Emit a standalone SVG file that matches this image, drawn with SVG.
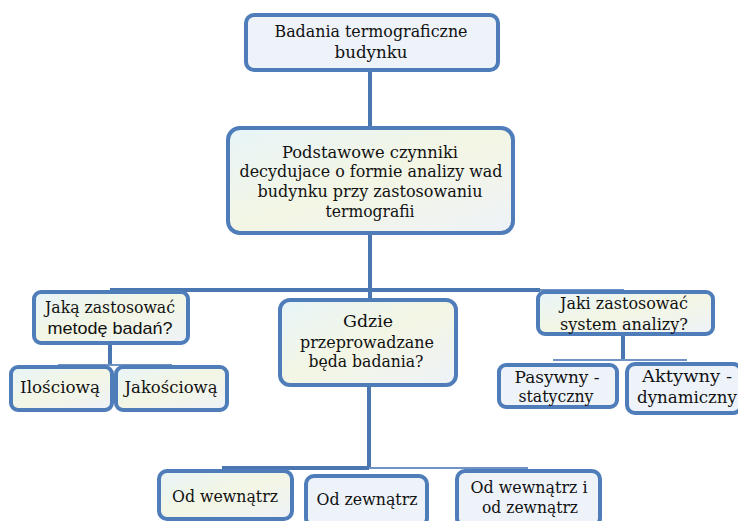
<svg xmlns="http://www.w3.org/2000/svg" width="738" height="521" viewBox="0 0 738 521">
<style>
.box{fill:#eef3fa;stroke:#4f7dba;stroke-width:4}
.tex{fill:url(#tex)}
.c{stroke:#4a76b2;stroke-width:4;fill:none}
.ct{stroke:#6f93c4;stroke-width:2;fill:none}
.t{font-family:'DejaVu Serif','Liberation Serif',serif;font-size:17px;fill:#111;text-anchor:middle}
.s{font-family:'Liberation Sans',Arial,sans-serif;font-size:17px}
</style>
<defs>
<linearGradient id="tex" x1="0" y1="0" x2="1" y2="1">
<stop offset="0" stop-color="#e8f4f8"/>
<stop offset="0.5" stop-color="#f3f6e4"/>
<stop offset="1" stop-color="#eef2f8"/>
</linearGradient>
</defs>
<rect width="738" height="521" fill="#ffffff"/>
<g id="connectors">
<line class="c" x1="370" y1="70" x2="370" y2="128"/>
<line class="c" x1="370" y1="233" x2="370" y2="300"/>
<line class="c" x1="110" y1="290" x2="540" y2="290"/>
<line class="ct" x1="540" y1="290" x2="624" y2="290"/>
<line class="c" x1="110" y1="343" x2="110" y2="366"/>
<line class="ct" x1="58" y1="365" x2="172" y2="365"/>
<line class="c" x1="623" y1="334" x2="623" y2="360"/>
<line class="ct" x1="553" y1="360" x2="687" y2="360"/>
<line class="c" x1="369" y1="385" x2="369" y2="468"/>
<line class="c" x1="222" y1="468" x2="369" y2="468"/>
<line class="ct" x1="369" y1="468" x2="528" y2="468"/>
</g>
<g class="t">
<g id="n1"><rect class="box" x="246" y="15" width="252" height="55" rx="8"/>
<text x="371" y="37" textLength="193" lengthAdjust="spacingAndGlyphs">Badania termograficzne</text><text x="371" y="58" textLength="73" lengthAdjust="spacingAndGlyphs">budynku</text></g>
<g id="n2"><rect class="box tex" x="228" y="128" width="285" height="105" rx="12"/>
<text x="370" y="158" textLength="176" lengthAdjust="spacingAndGlyphs">Podstawowe czynniki</text><text x="371" y="177" textLength="263" lengthAdjust="spacingAndGlyphs">decydujace o formie analizy wad</text><text x="370" y="197" textLength="225" lengthAdjust="spacingAndGlyphs">budynku przy zastosowaniu</text><text x="370" y="217" textLength="89" lengthAdjust="spacingAndGlyphs">termografii</text></g>
<g id="n3"><rect class="box tex" x="34" y="292" width="154" height="51" rx="7"/>
<text x="110" y="313" textLength="130" lengthAdjust="spacingAndGlyphs">Jaką zastosować</text><text class="s" x="110" y="334" textLength="125" lengthAdjust="spacingAndGlyphs">metodę badań?</text></g>
<g id="n4"><rect class="box tex" x="280" y="300" width="176" height="85" rx="10"/>
<text x="368" y="327" textLength="50" lengthAdjust="spacingAndGlyphs">Gdzie</text><text x="367" y="348" textLength="134" lengthAdjust="spacingAndGlyphs">przeprowadzane</text><text x="366" y="367" textLength="115" lengthAdjust="spacingAndGlyphs">będa badania?</text></g>
<g id="n5"><rect class="box tex" x="538" y="292" width="175" height="42" rx="7"/>
<text x="624" y="309" textLength="128" lengthAdjust="spacingAndGlyphs">Jaki zastosować</text><text x="624" y="330" textLength="128" lengthAdjust="spacingAndGlyphs">system analizy?</text></g>
<g id="n6"><rect class="box tex" x="11" y="367" width="101" height="43" rx="7"/>
<text x="60" y="393" textLength="80" lengthAdjust="spacingAndGlyphs">Ilościową</text></g>
<g id="n7"><rect class="box tex" x="116" y="367" width="111" height="43" rx="7"/>
<text x="171" y="393" textLength="93" lengthAdjust="spacingAndGlyphs">Jakościową</text></g>
<g id="n8"><rect class="box" x="499" y="365" width="118" height="42" rx="7"/>
<text x="557" y="383" textLength="85" lengthAdjust="spacingAndGlyphs">Pasywny -</text><text x="556" y="402" textLength="75" lengthAdjust="spacingAndGlyphs">statyczny</text></g>
<g id="n9"><rect class="box" x="627" y="364" width="114" height="49" rx="8"/>
<text x="687" y="382" textLength="90" lengthAdjust="spacingAndGlyphs">Aktywny  -</text><text x="687" y="403" textLength="100" lengthAdjust="spacingAndGlyphs">dynamiczny</text></g>
<g id="n10"><rect class="box tex" x="159" y="471" width="133" height="48" rx="8"/>
<text x="225" y="502" textLength="106" lengthAdjust="spacingAndGlyphs">Od wewnątrz</text></g>
<g id="n11"><rect class="box" x="306" y="476" width="121" height="50" rx="8"/>
<text x="367" y="505" textLength="101" lengthAdjust="spacingAndGlyphs">Od zewnątrz</text></g>
<g id="n12"><rect class="box" x="457" y="471" width="143" height="55" rx="8"/>
<text x="529" y="493" textLength="117" lengthAdjust="spacingAndGlyphs">Od wewnątrz i</text><text x="530" y="513" textLength="96" lengthAdjust="spacingAndGlyphs">od zewnątrz</text></g>
</g>
</svg>
